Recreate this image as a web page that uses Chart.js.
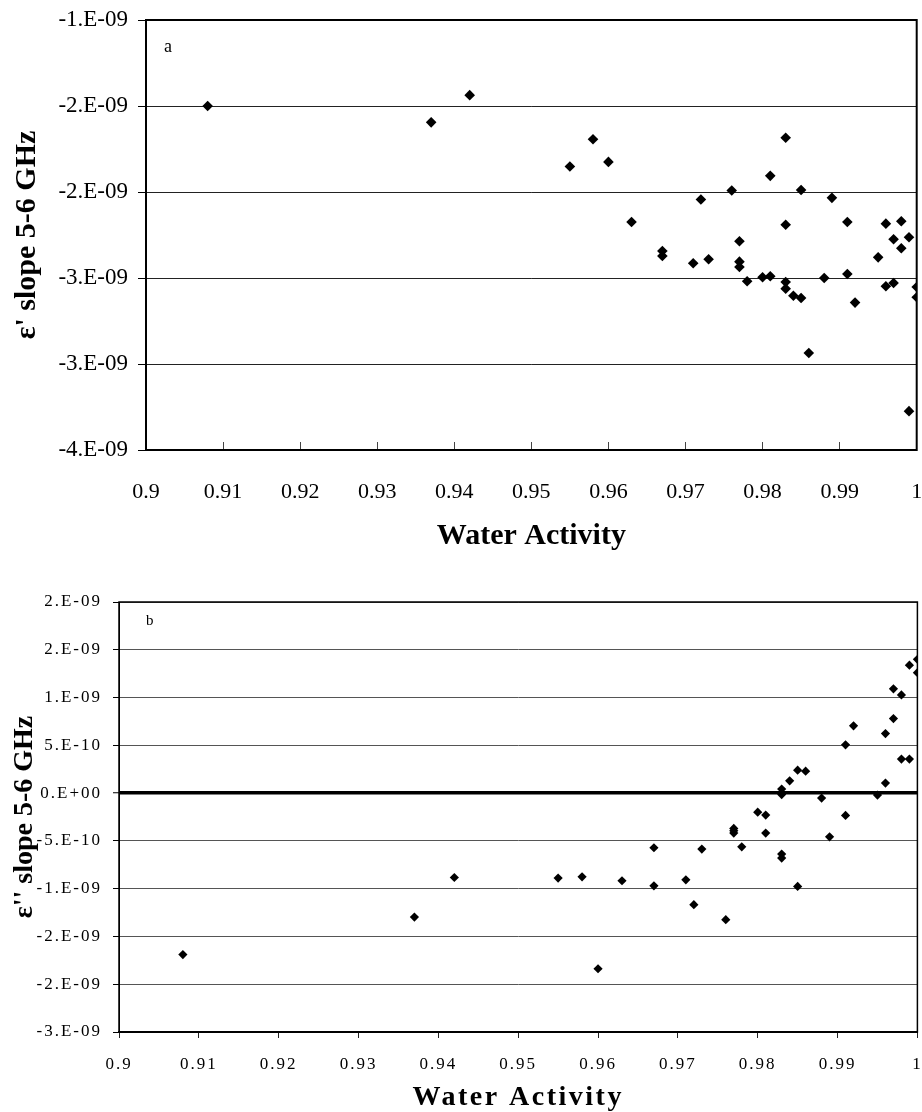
<!DOCTYPE html>
<html>
<head>
<meta charset="utf-8">
<script src="https://cdn.jsdelivr.net/npm/chart.js@4.4.1/dist/chart.umd.min.js"></script>
<style>
  html, body { margin: 0; padding: 0; background: #fff; }
  .panel { position: absolute; left: 0; }
  #boxA { top: 0; width: 922px; height: 570px; }
  #boxB { top: 570px; width: 922px; height: 542px; }
</style>
</head>
<body>
<div class="panel" id="boxA"><canvas id="chartA" width="922" height="570"></canvas></div>
<div class="panel" id="boxB"><canvas id="chartB" width="922" height="542"></canvas></div>
<script>
/* ---- dados ---- */
const waterActivity = [
  0.908, 0.937, 0.942, 0.955, 0.958, 0.960, 0.963, 0.967, 0.967, 0.971,
  0.972, 0.973, 0.976, 0.977, 0.977, 0.977, 0.978, 0.980, 0.981, 0.981,
  0.983, 0.983, 0.983, 0.983, 0.984, 0.985, 0.985, 0.986, 0.988, 0.989,
  0.991, 0.991, 0.992, 0.995, 0.996, 0.996, 0.997, 0.997, 0.998, 0.998,
  0.999, 0.999, 1.000, 1.000
];
// ε' slope 5-6 GHz
const slopeReal = [
  -1.500e-9, -1.595e-9, -1.437e-9, -1.852e-9, -1.693e-9, -1.825e-9, -2.174e-9, -2.343e-9, -2.372e-9, -2.414e-9,
  -2.044e-9, -2.391e-9, -1.991e-9, -2.286e-9, -2.405e-9, -2.436e-9, -2.519e-9, -2.496e-9, -1.906e-9, -2.490e-9,
  -1.685e-9, -2.190e-9, -2.523e-9, -2.562e-9, -2.603e-9, -1.988e-9, -2.616e-9, -2.936e-9, -2.500e-9, -2.034e-9,
  -2.174e-9, -2.477e-9, -2.643e-9, -2.380e-9, -2.184e-9, -2.548e-9, -2.275e-9, -2.529e-9, -2.170e-9, -2.327e-9,
  -2.263e-9, -3.274e-9, -2.552e-9, -2.612e-9
];
// ε'' slope 5-6 GHz
const slopeLoss = [
  -1.690e-9, -1.297e-9, -0.883e-9, -0.889e-9, -0.876e-9, -1.838e-9, -0.917e-9, -0.572e-9, -0.970e-9, -0.907e-9,
  -1.168e-9, -0.586e-9, -1.325e-9, -0.370e-9, -0.394e-9, -0.418e-9, -0.562e-9, -0.199e-9, -0.230e-9, -0.418e-9,
   0.042e-9, -0.015e-9, -0.638e-9, -0.680e-9,  0.129e-9,  0.240e-9, -0.977e-9,  0.230e-9, -0.052e-9, -0.457e-9,
   0.505e-9, -0.234e-9,  0.704e-9, -0.021e-9,  0.623e-9,  0.105e-9,  1.091e-9,  0.780e-9,  1.028e-9,  0.356e-9,
   0.356e-9,  1.339e-9,  1.400e-9,  1.260e-9
];

const xTicks       = [0.9, 0.91, 0.92, 0.93, 0.94, 0.95, 0.96, 0.97, 0.98, 0.99, 1.0];
const xTickLabels  = ['0.9', '0.91', '0.92', '0.93', '0.94', '0.95', '0.96', '0.97', '0.98', '0.99', '1'];
const yTicksA      = [-3.5e-9, -3.0e-9, -2.5e-9, -2.0e-9, -1.5e-9, -1.0e-9];
const yTickLabelsA = ['-4.E-09', '-3.E-09', '-3.E-09', '-2.E-09', '-2.E-09', '-1.E-09'];
const yTicksB      = [-2.5e-9, -2.0e-9, -1.5e-9, -1.0e-9, -0.5e-9, 0, 0.5e-9, 1.0e-9, 1.5e-9, 2.0e-9];
const yTickLabelsB = ['-3.E-09', '-2.E-09', '-2.E-09', '-1.E-09', '-5.E-10', '0.E+00', '5.E-10', '1.E-09', '2.E-09', '2.E-09'];

const SERIF = "'Liberation Serif', 'Times New Roman', serif";

/* ---- plugins ---- */
const frame = {
  id: 'frame',
  afterDraw(chart, args, opts) {
    const { ctx, chartArea: a } = chart;
    ctx.save();
    ctx.strokeStyle = '#000';
    ctx.lineWidth = opts.width || 2;
    ctx.strokeRect(a.left, a.top, a.right - a.left, a.bottom - a.top);
    if (opts.label) {
      ctx.fillStyle = '#000';
      ctx.font = opts.labelSize + 'px ' + SERIF;
      ctx.textBaseline = 'middle';
      ctx.fillText(opts.label, a.left + opts.labelDx, a.top + opts.labelDy);
    }
    ctx.restore();
  }
};

// espaçamento entre letras (o painel b tem texto espaçado)
function spacedText(cfg) {
  return {
    id: 'spacedText',
    beforeDraw(chart) {
      Object.keys(cfg).forEach(id => {
        const s = chart.scales[id];
        if (!s || s._spaced) return;
        s._spaced = true;
        const drawLabels = s.drawLabels, drawTitle = s.drawTitle;
        s.drawLabels = function (area) {
          this.ctx.letterSpacing = cfg[id].ticks;
          drawLabels.call(this, area);
          this.ctx.letterSpacing = '0px';
        };
        s.drawTitle = function () {
          this.ctx.letterSpacing = cfg[id].title;
          drawTitle.call(this);
          this.ctx.letterSpacing = '0px';
        };
      });
    }
  };
}

function fixedTicks(values) {
  return scale => { scale.ticks = values.map(v => ({ value: v })); };
}
// tamanho fixo do eixo, sem folga extra dos rótulos
function fitX(h) {
  return s => { s.height = h; s.paddingLeft = 0; s.paddingRight = 0; };
}
function fitY(w) {
  return s => { s.width = w; s.paddingTop = 0; s.paddingBottom = 0; };
}

/* ---- painel a ---- */
new Chart(document.getElementById('chartA'), {
  type: 'scatter',
  data: {
    datasets: [{
      data: waterActivity.map((x, i) => ({ x, y: slopeReal[i] })),
      pointStyle: 'rectRot',
      pointRadius: 5.3,
      backgroundColor: '#000',
      borderColor: '#000',
      borderWidth: 0,
      clip: 0
    }]
  },
  options: {
    responsive: false,
    animation: false,
    layout: { padding: { top: 20, right: 0, left: 0, bottom: 0 } },
    plugins: {
      legend: { display: false },
      tooltip: { enabled: false },
      frame: { width: 2, label: 'a', labelSize: 18, labelDx: 18, labelDy: 27 }
    },
    scales: {
      x: {
        type: 'linear', min: 0.9, max: 1.0,
        afterBuildTicks: fixedTicks(xTicks),
        afterFit: fitX(120),
        grid: { drawOnChartArea: false, drawTicks: true, tickLength: -8, tickColor: '#444', tickWidth: 1 },
        border: { color: '#000', width: 2 },
        ticks: {
          padding: 37, color: '#000', maxRotation: 0, autoSkip: false,
          font: { family: SERIF, size: 22 },
          callback: (v, i) => xTickLabels[i]
        },
        title: {
          display: true, text: 'Water Activity', color: '#000',
          font: { family: SERIF, size: 30, weight: 'bold' },
          padding: { top: 0, bottom: 16 }
        }
      },
      y: {
        type: 'linear', min: -3.5e-9, max: -1.0e-9,
        afterBuildTicks: fixedTicks(yTicksA),
        afterFit: fitY(146),
        grid: { color: '#222', lineWidth: 1, drawTicks: true, tickLength: 8, tickColor: '#000' },
        border: { color: '#000', width: 2 },
        ticks: {
          padding: 10, color: '#000', autoSkip: false,
          font: { family: SERIF, size: 23 },
          callback: (v, i) => yTickLabelsA[i]
        },
        title: {
          display: true, text: "\u03b5' slope 5-6 GHz", color: '#000',
          font: { family: SERIF, size: 30, weight: 'bold' },
          padding: { top: 9, bottom: 0 }
        }
      }
    }
  },
  plugins: [frame]
});

/* ---- painel b ---- */
new Chart(document.getElementById('chartB'), {
  type: 'scatter',
  data: {
    datasets: [{
      data: waterActivity.map((x, i) => ({ x, y: slopeLoss[i] })),
      pointStyle: 'rectRot',
      pointRadius: 4.6,
      backgroundColor: '#000',
      borderColor: '#000',
      borderWidth: 0,
      clip: 0
    }]
  },
  options: {
    responsive: false,
    animation: false,
    layout: { padding: { top: 32, right: 0, left: 0, bottom: 0 } },
    plugins: {
      legend: { display: false },
      tooltip: { enabled: false },
      frame: { width: 1.5, label: 'b', labelSize: 15, labelDx: 27, labelDy: 19 }
    },
    scales: {
      x: {
        type: 'linear', min: 0.9, max: 1.0,
        afterBuildTicks: fixedTicks(xTicks),
        afterFit: fitX(80),
        grid: { drawOnChartArea: false, drawTicks: true, tickLength: 6, tickColor: '#222', tickWidth: 1 },
        border: { color: '#000', width: 2 },
        ticks: {
          padding: 16, color: '#000', maxRotation: 0, autoSkip: false,
          font: { family: SERIF, size: 17 },
          callback: (v, i) => xTickLabels[i]
        },
        title: {
          display: true, text: 'Water Activity', color: '#000',
          font: { family: SERIF, size: 28, weight: 'bold', lineHeight: 1 },
          padding: { top: 0, bottom: 0 }
        }
      },
      y: {
        type: 'linear', min: -2.5e-9, max: 2.0e-9,
        afterBuildTicks: fixedTicks(yTicksB),
        afterFit: fitY(119),
        grid: {
          color: ctx => (ctx.tick && ctx.tick.value === 0) ? '#000' : '#555',
          lineWidth: ctx => (ctx.tick && ctx.tick.value === 0) ? 3.5 : 1,
          drawTicks: true, tickLength: 6, tickColor: '#000', tickWidth: 1
        },
        border: { color: '#000', width: 1 },
        ticks: {
          padding: 11, color: '#000', autoSkip: false,
          font: { family: SERIF, size: 17 },
          callback: (v, i) => yTickLabelsB[i]
        },
        title: {
          display: true, text: "\u03b5'' slope 5-6 GHz", color: '#000',
          font: { family: SERIF, size: 28, weight: 'bold' },
          padding: { top: 8, bottom: 0 }
        }
      }
    }
  },
  plugins: [frame, spacedText({ x: { ticks: '2px', title: '2.5px' }, y: { ticks: '2px', title: '0px' } })]
});
</script>
</body>
</html>
